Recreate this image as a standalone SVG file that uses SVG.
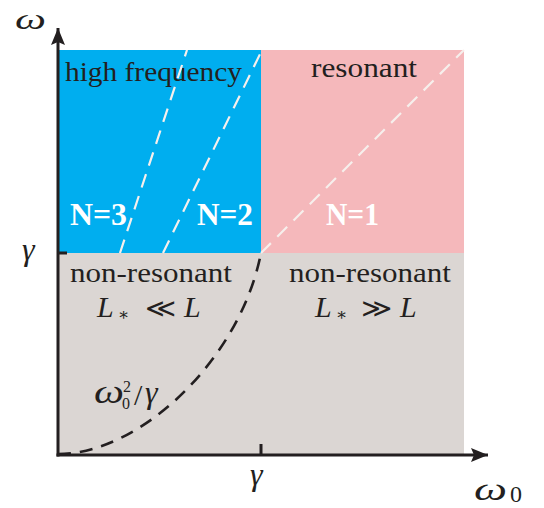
<svg xmlns="http://www.w3.org/2000/svg" width="544" height="508" viewBox="0 0 544 508">
<style>
.lbl{font-family:"Liberation Serif","DejaVu Serif",serif;font-size:27px;fill:#231f20}
.math{font-family:"Liberation Serif","DejaVu Serif",serif;font-style:italic;fill:#231f20}
.sym{font-family:"DejaVu Serif","Liberation Serif",serif;fill:#231f20}
.num{font-family:"Liberation Serif","DejaVu Serif",serif;fill:#231f20}
.nlab{font-family:"Liberation Serif","DejaVu Serif",serif;font-weight:bold;font-size:31px;fill:#ffffff}
.wdash{fill:none;stroke:#f7efec;stroke-width:2.2;stroke-dasharray:14 9}
.axis{fill:none;stroke:#231f20;stroke-width:3}
</style>
<defs>
<marker id="arr" markerUnits="userSpaceOnUse" markerWidth="20" markerHeight="16" refX="17" refY="8" orient="auto">
<path d="M0,1 L17,8 L0,15 L3,8 Z" fill="#231f20"/>
</marker>
</defs>
<g id="region-high">
<rect x="59" y="50" width="202" height="203" fill="#00aeef"/>
<text class="lbl" x="65" y="81" textLength="177" lengthAdjust="spacingAndGlyphs">high frequency</text>
</g>
<g id="region-resonant">
<rect x="261" y="50" width="203" height="203" fill="#f5b8bb"/>
<text class="lbl" x="311" y="77" textLength="106" lengthAdjust="spacingAndGlyphs">resonant</text>
</g>
<g id="region-nonres">
<rect x="59" y="253" width="405" height="202" fill="#dbd6d3"/>
<text class="lbl" x="70" y="282" textLength="162" lengthAdjust="spacingAndGlyphs">non-resonant</text>
<text class="lbl" x="289" y="282" textLength="162" lengthAdjust="spacingAndGlyphs">non-resonant</text>
<text class="math" x="97" y="317" font-size="30">L</text>
<text class="sym" x="118" y="320" font-size="17">∗</text>
<text class="sym" x="145" y="317" font-size="26" textLength="31" lengthAdjust="spacingAndGlyphs">≪</text>
<text class="math" x="184" y="317" font-size="30">L</text>
<text class="math" x="315" y="317" font-size="30">L</text>
<text class="sym" x="336" y="320" font-size="17">∗</text>
<text class="sym" x="361" y="317" font-size="26" textLength="31" lengthAdjust="spacingAndGlyphs">≫</text>
<text class="math" x="400" y="317" font-size="30">L</text>
</g>
<g id="connectors">
<line class="wdash" x1="120" y1="253" x2="187" y2="50"/>
<line class="wdash" x1="163" y1="253" x2="262" y2="50"/>
<line class="wdash" x1="261" y1="253" x2="464" y2="50"/>
<path d="M58,454 C140,454 240,360 261,253" fill="none" stroke="#231f20" stroke-width="2.6" stroke-dasharray="13 9"/>
<line class="axis" x1="58" y1="456.5" x2="58" y2="28" marker-end="url(#arr)"/>
<line class="axis" x1="56.5" y1="455" x2="488" y2="455" marker-end="url(#arr)"/>
<line class="axis" x1="261" y1="444" x2="261" y2="455"/>
<line class="axis" x1="58" y1="253" x2="67" y2="253"/>
</g>
<g id="n-labels">
<text class="nlab" x="70" y="225" textLength="57" lengthAdjust="spacingAndGlyphs">N=3</text>
<text class="nlab" x="197" y="225" textLength="56" lengthAdjust="spacingAndGlyphs">N=2</text>
<text class="nlab" x="326" y="225" textLength="53" lengthAdjust="spacingAndGlyphs">N=1</text>
</g>
<g id="curve-label">
<text class="math" x="94" y="403" font-size="34" textLength="30" lengthAdjust="spacingAndGlyphs">ω</text>
<text class="num" x="123" y="392" font-size="16">2</text>
<text class="num" x="122" y="409" font-size="16">0</text>
<text class="num" x="134" y="405" font-size="30">/</text>
<text class="math" x="145" y="403" font-size="32">γ</text>
</g>
<g id="axis-labels">
<text class="math" x="15" y="29" font-size="30" textLength="31" lengthAdjust="spacingAndGlyphs">ω</text>
<text class="math" x="22" y="260" font-size="32">γ</text>
<text class="math" x="250" y="485" font-size="32">γ</text>
<text class="math" x="474" y="500" font-size="32" textLength="33" lengthAdjust="spacingAndGlyphs">ω</text>
<text class="num" x="510" y="502" font-size="24">0</text>
</g>
</svg>
